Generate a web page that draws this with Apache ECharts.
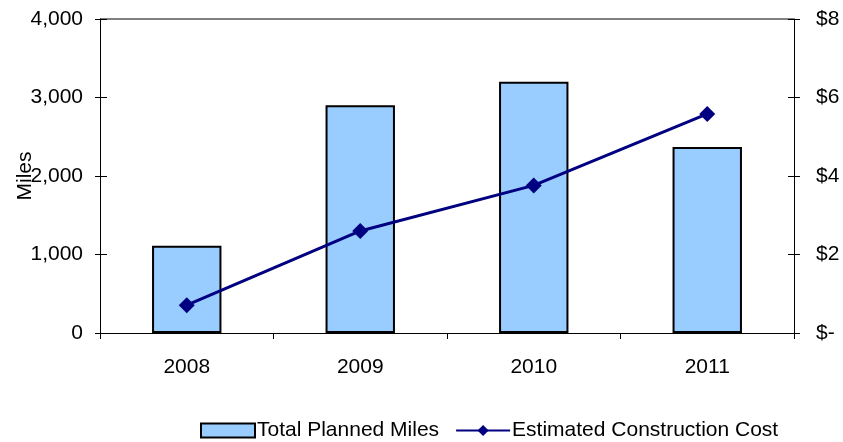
<!DOCTYPE html>
<html>
<head>
<meta charset="utf-8">
<script src="https://cdn.jsdelivr.net/npm/echarts@6/dist/echarts.min.js"></script>
<style>
  html, body { margin: 0; padding: 0; background: #fff; }
  #chart { width: 843px; height: 442px; }
</style>
</head>
<body>
<div id="chart"></div>
<script>
// Planned miles per year (bars, left axis) and estimated cost in $ (line, right axis)
const years = ['2008', '2009', '2010', '2011'];
const plannedMiles = [1110, 2900, 3200, 2370];
const constructionCost = [0.71, 2.60, 3.76, 5.58];
const mileTicks = [0, 1000, 2000, 3000, 4000];
const costTicks = [0, 2, 4, 6, 8];

const font = 'Liberation Sans, Arial, sans-serif';
const fs = 21;
const chart = echarts.init(document.getElementById('chart'), null, { renderer: 'canvas' });

const mileMin = mileTicks[0], mileMax = mileTicks[mileTicks.length - 1];
const costMin = costTicks[0], costMax = costTicks[costTicks.length - 1];

chart.setOption({
  animation: false,
  backgroundColor: '#ffffff',
  textStyle: { fontFamily: font, color: '#000' },
  grid: { left: 100, right: 49, top: 19, bottom: 109, containLabel: false, outerBoundsMode: 'none' },
  legend: {
    top: 420,
    left: 200,
    padding: 0,
    itemWidth: 54,
    itemHeight: 14,
    itemGap: 16,
    textStyle: { fontFamily: font, fontSize: fs, color: '#000', padding: [0, 0, 0, -3] },
    data: [
      { name: 'Total Planned Miles', icon: 'rect' },
      { name: 'Estimated Construction Cost' }
    ]
  },
  xAxis: {
    type: 'category',
    data: years,
    axisLine: { lineStyle: { color: '#000', width: 1 } },
    axisTick: { show: true, alignWithLabel: false, length: 6, lineStyle: { color: '#000' } },
    axisLabel: { fontFamily: font, fontSize: fs, color: '#000', margin: 24 }
  },
  yAxis: [
    {
      type: 'value',
      min: mileMin,
      max: mileMax,
      interval: 1000,
      position: 'left',
      offset: 0,
      name: 'Miles',
      nameLocation: 'middle',
      nameRotate: 90,
      nameGap: 64,
      nameMoveOverlap: false,
      nameTextStyle: { fontFamily: font, fontSize: fs, color: '#000' },
      axisLine: { show: true, lineStyle: { color: '#000', width: 1 } },
      axisTick: { show: true, length: 5, lineStyle: { color: '#000' } },
      splitLine: { show: false },
      axisLabel: {
        fontFamily: font, fontSize: fs, color: '#000', margin: 17,
        formatter: v => v.toLocaleString('en-US')
      }
    },
    {
      type: 'value',
      min: costMin,
      max: costMax,
      interval: 2,
      position: 'right',
      offset: 0,
      axisLine: { show: true, lineStyle: { color: '#000', width: 1 } },
      axisTick: { show: true, length: 6, lineStyle: { color: '#000' } },
      splitLine: { show: false },
      axisLabel: {
        fontFamily: font, fontSize: fs, color: '#000', margin: 22,
        formatter: v => (v === 0 ? '$-' : '$' + v)
      }
    },
    {
      // inner half of the left tick marks
      type: 'value',
      min: mileMin, max: mileMax, interval: 1000,
      position: 'left',
      offset: 0,
      axisLine: { show: false },
      axisTick: { show: true, inside: true, length: 7, lineStyle: { color: '#000' } },
      axisLabel: { show: false },
      splitLine: { show: false }
    },
    {
      // inner half of the right tick marks
      type: 'value',
      min: costMin, max: costMax, interval: 2,
      position: 'right',
      offset: 0,
      axisLine: { show: false },
      axisTick: { show: true, inside: true, length: 6, lineStyle: { color: '#000' } },
      axisLabel: { show: false },
      splitLine: { show: false }
    }
  ],
  series: [
    {
      name: 'Total Planned Miles',
      type: 'bar',
      yAxisIndex: 0,
      data: plannedMiles,
      barWidth: '40%',
      itemStyle: { color: '#99CCFF', borderColor: '#000', borderWidth: 2 }
    },
    {
      name: 'Estimated Construction Cost',
      type: 'line',
      yAxisIndex: 1,
      data: constructionCost,
      symbol: 'diamond',
      symbolSize: 16,
      lineStyle: { color: '#000080', width: 3 },
      itemStyle: { color: '#000080' }
    }
  ],
  graphic: [
    {
      // gray top border of the plot area
      type: 'line',
      shape: { x1: 100, y1: 19, x2: 794, y2: 19 },
      style: { stroke: '#808080', lineWidth: 2 },
      z: 0
    }
  ]
});
</script>
</body>
</html>
